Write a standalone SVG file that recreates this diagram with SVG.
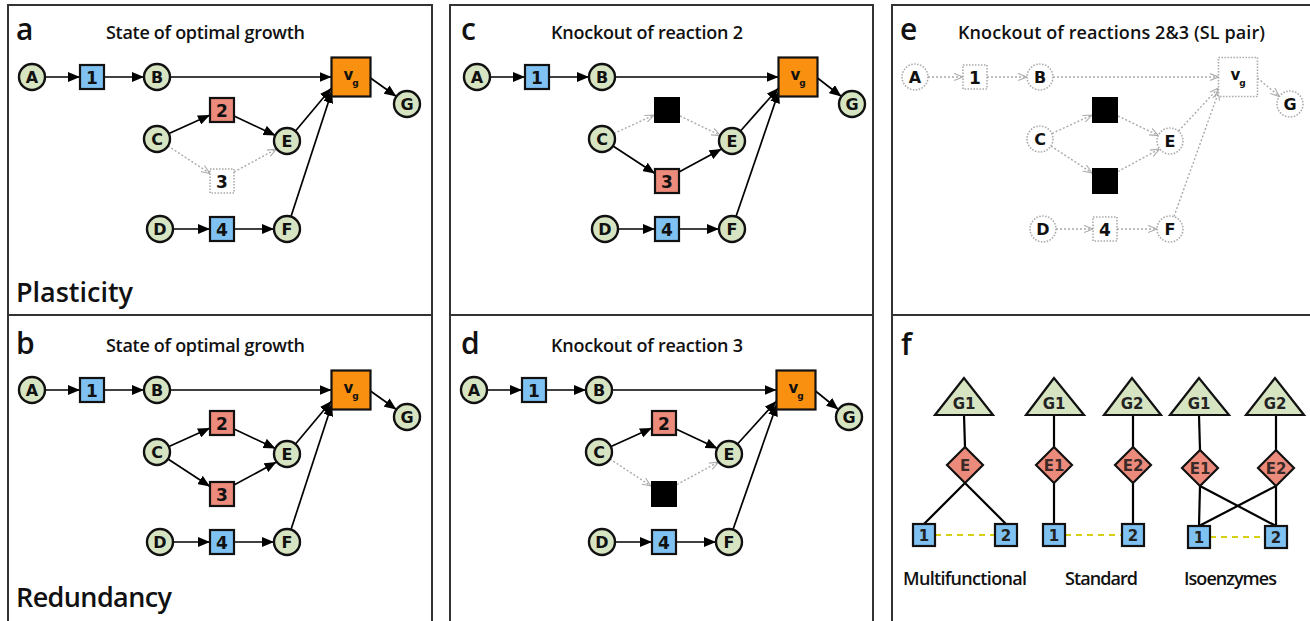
<svg xmlns="http://www.w3.org/2000/svg" width="1310" height="621" viewBox="0 0 1310 621">
<defs>
<marker id="ah" viewBox="0 0 12 10" refX="12" refY="5" markerWidth="12" markerHeight="10" markerUnits="userSpaceOnUse" orient="auto"><path d="M0,0 L12,5 L0,10 z" fill="#000"/></marker>
<marker id="oh" viewBox="0 0 10 10" refX="10" refY="5" markerWidth="9" markerHeight="9" markerUnits="userSpaceOnUse" orient="auto"><path d="M0,1 L10,5 L0,9" fill="none" stroke="#aaa" stroke-width="1.2"/></marker>
<style>
.frame{fill:none;stroke:#333;stroke-width:2}
.met{fill:#d6e4c2;stroke:#111;stroke-width:2.4}
.rb{fill:#7fc1f1;stroke:#111;stroke-width:2.2}
.rr{fill:#ec8b7b;stroke:#111;stroke-width:2.2}
.vg{fill:#fa900f;stroke:#111;stroke-width:2.2}
.ko{fill:#000}
.off{fill:#fff;stroke:#aaa;stroke-width:1.6;stroke-dasharray:1.5 1.5}
.lt{font-family:"DejaVu Sans",sans-serif;font-weight:bold;font-size:16px;text-anchor:middle;fill:#111}
.nt{font-family:"DejaVu Sans",sans-serif;font-weight:bold;font-size:17px;text-anchor:middle;fill:#111}
.v{font-family:"DejaVu Sans",sans-serif;font-weight:bold;font-size:15px;text-anchor:middle;fill:#111}
.sub{font-family:"DejaVu Sans",sans-serif;font-weight:bold;font-size:9px;text-anchor:middle;fill:#111}
.e{stroke:#000;stroke-width:1.7;fill:none;marker-end:url(#ah)}
.d{stroke:#aaa;stroke-width:1.4;stroke-dasharray:2 2;fill:none;marker-end:url(#oh)}
.title{font-family:"Open Sans",Lato,sans-serif;font-weight:600;font-size:18px;fill:#111}
.pl{font-family:"Open Sans",Lato,sans-serif;font-weight:600;font-size:30px;fill:#111}
.big{font-family:"Open Sans",Lato,sans-serif;font-weight:600;font-size:27px;fill:#111}
.fl{stroke:#000;stroke-width:2.2;fill:none}
.dash{stroke:#d4d010;stroke-width:2.2;stroke-dasharray:6 5;fill:none}
.tri{fill:#d6e4c2;stroke:#111;stroke-width:2.2}
.dia{fill:#ec8b7b;stroke:#111;stroke-width:2.2}
.ft{font-family:"DejaVu Sans",sans-serif;font-weight:bold;font-size:15px;text-anchor:middle;fill:#222}
.et{font-family:"DejaVu Sans",sans-serif;font-weight:bold;font-size:15px;text-anchor:middle;fill:#3a2a28}
</style>
</defs>
<rect width="1310" height="621" fill="#fff"/>

<g id="frames">
<rect class="frame" x="8" y="5" width="424" height="310"/>
<rect class="frame" x="8" y="315" width="424" height="315"/>
<rect class="frame" x="450" y="5" width="423" height="310"/>
<rect class="frame" x="450" y="315" width="423" height="315"/>
<rect class="frame" x="892" y="5" width="430" height="310"/>
<rect class="frame" x="892" y="315" width="430" height="315"/>
</g>

<!-- Panel a -->
<g id="panel-a">
<text class="pl" x="16" y="40">a</text>
<text class="title" x="106" y="39" textLength="199">State of optimal growth</text>
<text class="big" x="16" y="302" textLength="117">Plasticity</text>
<g id="a-edges">
<line class="e" x1="45" y1="77" x2="80" y2="77"/>
<line class="e" x1="104" y1="77" x2="144" y2="77"/>
<line class="e" x1="170" y1="77" x2="331.5" y2="77"/>
<line class="e" x1="370.5" y1="78" x2="396.4" y2="96.5"/>
<line class="e" x1="169" y1="133.5" x2="210" y2="115"/>
<line class="e" x1="234" y1="116" x2="275.5" y2="135.5"/>
<line class="e" x1="295.5" y1="131" x2="331.5" y2="88"/>
<line class="e" x1="291" y1="216.5" x2="332" y2="91"/>
<line class="d" x1="168" y1="146" x2="210" y2="173.5"/>
<line class="d" x1="234" y1="172" x2="276.5" y2="149"/>
<line class="e" x1="173" y1="229" x2="210" y2="229"/>
<line class="e" x1="234" y1="229" x2="274" y2="229"/>
</g>
<g id="a-A"><circle class="met" cx="32" cy="77" r="13"/><text class="lt" x="32" y="83">A</text></g>
<g id="a-R1"><rect class="rb" x="80" y="65" width="24" height="24"/><text class="nt" x="92" y="83.5">1</text></g>
<g id="a-B"><circle class="met" cx="157" cy="77" r="13"/><text class="lt" x="157" y="83">B</text></g>
<g id="a-VG"><rect class="vg" x="331.5" y="57.5" width="39" height="39"/><text class="v" x="348.5" y="80">v</text><text class="sub" x="355.5" y="86">g</text></g>
<g id="a-G"><circle class="met" cx="407" cy="104" r="13"/><text class="lt" x="407" y="110">G</text></g>
<g id="a-R2"><rect class="rr" x="210" y="98" width="24" height="24"/><text class="nt" x="222" y="116.5">2</text></g>
<g id="a-C"><circle class="met" cx="157" cy="139" r="13"/><text class="lt" x="157" y="145">C</text></g>
<g id="a-E"><circle class="met" cx="287" cy="141" r="13"/><text class="lt" x="287" y="147">E</text></g>
<g id="a-R3"><rect class="off" x="210" y="169" width="24" height="24"/><text class="nt" x="222" y="187.5">3</text></g>
<g id="a-D"><circle class="met" cx="160" cy="229" r="13"/><text class="lt" x="160" y="235">D</text></g>
<g id="a-R4"><rect class="rb" x="210" y="217" width="24" height="24"/><text class="nt" x="222" y="235.5">4</text></g>
<g id="a-F"><circle class="met" cx="287" cy="229" r="13"/><text class="lt" x="287" y="235">F</text></g>
</g>

<!-- Panel b -->
<g id="panel-b">
<text class="pl" x="16" y="354">b</text>
<text class="title" x="106" y="352" textLength="199">State of optimal growth</text>
<text class="big" x="16" y="607" textLength="156">Redundancy</text>
<g transform="translate(0,313)">
<g id="b-edges">
<line class="e" x1="45" y1="77" x2="80" y2="77"/>
<line class="e" x1="104" y1="77" x2="144" y2="77"/>
<line class="e" x1="170" y1="77" x2="331.5" y2="77"/>
<line class="e" x1="370.5" y1="78" x2="396.4" y2="96.5"/>
<line class="e" x1="169" y1="133.5" x2="210" y2="115"/>
<line class="e" x1="234" y1="116" x2="275.5" y2="135.5"/>
<line class="e" x1="295.5" y1="131" x2="331.5" y2="88"/>
<line class="e" x1="291" y1="216.5" x2="332" y2="91"/>
<line class="e" x1="168" y1="146" x2="210" y2="173.5"/>
<line class="e" x1="234" y1="172" x2="276.5" y2="149"/>
<line class="e" x1="173" y1="229" x2="210" y2="229"/>
<line class="e" x1="234" y1="229" x2="274" y2="229"/>
</g>
<g id="b-A"><circle class="met" cx="32" cy="77" r="13"/><text class="lt" x="32" y="83">A</text></g>
<g id="b-R1"><rect class="rb" x="80" y="65" width="24" height="24"/><text class="nt" x="92" y="83.5">1</text></g>
<g id="b-B"><circle class="met" cx="157" cy="77" r="13"/><text class="lt" x="157" y="83">B</text></g>
<g id="b-VG"><rect class="vg" x="331.5" y="57.5" width="39" height="39"/><text class="v" x="348.5" y="80">v</text><text class="sub" x="355.5" y="86">g</text></g>
<g id="b-G"><circle class="met" cx="407" cy="104" r="13"/><text class="lt" x="407" y="110">G</text></g>
<g id="b-R2"><rect class="rr" x="210" y="98" width="24" height="24"/><text class="nt" x="222" y="116.5">2</text></g>
<g id="b-C"><circle class="met" cx="157" cy="139" r="13"/><text class="lt" x="157" y="145">C</text></g>
<g id="b-E"><circle class="met" cx="287" cy="141" r="13"/><text class="lt" x="287" y="147">E</text></g>
<g id="b-R3"><rect class="rr" x="210" y="169" width="24" height="24"/><text class="nt" x="222" y="187.5">3</text></g>
<g id="b-D"><circle class="met" cx="160" cy="229" r="13"/><text class="lt" x="160" y="235">D</text></g>
<g id="b-R4"><rect class="rb" x="210" y="217" width="24" height="24"/><text class="nt" x="222" y="235.5">4</text></g>
<g id="b-F"><circle class="met" cx="287" cy="229" r="13"/><text class="lt" x="287" y="235">F</text></g>
</g>
</g>

<!-- Panel c -->
<g id="panel-c">
<text class="pl" x="461" y="40">c</text>
<text class="title" x="551" y="39" textLength="192">Knockout of reaction 2</text>
<g transform="translate(445,0)">
<g id="c-edges">
<line class="e" x1="45" y1="77" x2="80" y2="77"/>
<line class="e" x1="104" y1="77" x2="144" y2="77"/>
<line class="e" x1="170" y1="77" x2="333.5" y2="77"/>
<line class="e" x1="372.5" y1="78" x2="396.4" y2="96.5"/>
<line class="d" x1="169" y1="133.5" x2="209" y2="115"/>
<line class="d" x1="235" y1="116" x2="275.5" y2="135.5"/>
<line class="e" x1="295.5" y1="131" x2="333.5" y2="88"/>
<line class="e" x1="291" y1="216.5" x2="334" y2="91"/>
<line class="e" x1="168" y1="146" x2="210" y2="173.5"/>
<line class="e" x1="234" y1="172" x2="276.5" y2="149"/>
<line class="e" x1="173" y1="229" x2="210" y2="229"/>
<line class="e" x1="234" y1="229" x2="274" y2="229"/>
</g>
<g id="c-A"><circle class="met" cx="32" cy="77" r="13"/><text class="lt" x="32" y="83">A</text></g>
<g id="c-R1"><rect class="rb" x="80" y="65" width="24" height="24"/><text class="nt" x="92" y="83.5">1</text></g>
<g id="c-B"><circle class="met" cx="157" cy="77" r="13"/><text class="lt" x="157" y="83">B</text></g>
<g id="c-VG"><rect class="vg" x="333.5" y="57.5" width="39" height="39"/><text class="v" x="350.5" y="80">v</text><text class="sub" x="357.5" y="86">g</text></g>
<g id="c-G"><circle class="met" cx="407" cy="104" r="13"/><text class="lt" x="407" y="110">G</text></g>
<g id="c-R2"><rect class="ko" x="209" y="97" width="26" height="26"/></g>
<g id="c-C"><circle class="met" cx="157" cy="139" r="13"/><text class="lt" x="157" y="145">C</text></g>
<g id="c-E"><circle class="met" cx="287" cy="141" r="13"/><text class="lt" x="287" y="147">E</text></g>
<g id="c-R3"><rect class="rr" x="210" y="169" width="24" height="24"/><text class="nt" x="222" y="187.5">3</text></g>
<g id="c-D"><circle class="met" cx="160" cy="229" r="13"/><text class="lt" x="160" y="235">D</text></g>
<g id="c-R4"><rect class="rb" x="210" y="217" width="24" height="24"/><text class="nt" x="222" y="235.5">4</text></g>
<g id="c-F"><circle class="met" cx="287" cy="229" r="13"/><text class="lt" x="287" y="235">F</text></g>
</g>
</g>

<!-- Panel d -->
<g id="panel-d">
<text class="pl" x="461" y="354">d</text>
<text class="title" x="551" y="352" textLength="192">Knockout of reaction 3</text>
<g transform="translate(442,313)">
<g id="d-edges">
<line class="e" x1="45" y1="77" x2="80" y2="77"/>
<line class="e" x1="104" y1="77" x2="144" y2="77"/>
<line class="e" x1="170" y1="77" x2="334.5" y2="77"/>
<line class="e" x1="373.5" y1="78" x2="396.4" y2="96.5"/>
<line class="e" x1="169" y1="133.5" x2="210" y2="115"/>
<line class="e" x1="234" y1="116" x2="275.5" y2="135.5"/>
<line class="e" x1="295.5" y1="131" x2="334.5" y2="88"/>
<line class="e" x1="291" y1="216.5" x2="335" y2="91"/>
<line class="d" x1="168" y1="146" x2="209" y2="173"/>
<line class="d" x1="235" y1="171.5" x2="276.5" y2="149"/>
<line class="e" x1="173" y1="229" x2="210" y2="229"/>
<line class="e" x1="234" y1="229" x2="274" y2="229"/>
</g>
<g id="d-A"><circle class="met" cx="32" cy="77" r="13"/><text class="lt" x="32" y="83">A</text></g>
<g id="d-R1"><rect class="rb" x="80" y="65" width="24" height="24"/><text class="nt" x="92" y="83.5">1</text></g>
<g id="d-B"><circle class="met" cx="157" cy="77" r="13"/><text class="lt" x="157" y="83">B</text></g>
<g id="d-VG"><rect class="vg" x="334.5" y="57.5" width="39" height="39"/><text class="v" x="351.5" y="80">v</text><text class="sub" x="358.5" y="86">g</text></g>
<g id="d-G"><circle class="met" cx="407" cy="104" r="13"/><text class="lt" x="407" y="110">G</text></g>
<g id="d-R2"><rect class="rr" x="210" y="98" width="24" height="24"/><text class="nt" x="222" y="116.5">2</text></g>
<g id="d-C"><circle class="met" cx="157" cy="139" r="13"/><text class="lt" x="157" y="145">C</text></g>
<g id="d-E"><circle class="met" cx="287" cy="141" r="13"/><text class="lt" x="287" y="147">E</text></g>
<g id="d-R3"><rect class="ko" x="209" y="168" width="26" height="26"/></g>
<g id="d-D"><circle class="met" cx="160" cy="229" r="13"/><text class="lt" x="160" y="235">D</text></g>
<g id="d-R4"><rect class="rb" x="210" y="217" width="24" height="24"/><text class="nt" x="222" y="235.5">4</text></g>
<g id="d-F"><circle class="met" cx="287" cy="229" r="13"/><text class="lt" x="287" y="235">F</text></g>
</g>
</g>

<!-- Panel e -->
<g id="panel-e">
<text class="pl" x="900" y="40">e</text>
<text class="title" x="958" y="39" textLength="307">Knockout of reactions 2&amp;3 (SL pair)</text>
<g transform="translate(883,0)">
<g id="e-edges">
<line class="d" x1="45" y1="77" x2="80" y2="77"/>
<line class="d" x1="104" y1="77" x2="144" y2="77"/>
<line class="d" x1="170" y1="77" x2="335.5" y2="77"/>
<line class="d" x1="374.5" y1="78" x2="396.4" y2="96.5"/>
<line class="d" x1="169" y1="133.5" x2="209" y2="115"/>
<line class="d" x1="235" y1="116" x2="275.5" y2="135.5"/>
<line class="d" x1="295.5" y1="131" x2="335.5" y2="88"/>
<line class="d" x1="291" y1="216.5" x2="336" y2="91"/>
<line class="d" x1="168" y1="146" x2="209" y2="173"/>
<line class="d" x1="235" y1="171.5" x2="276.5" y2="149"/>
<line class="d" x1="173" y1="229" x2="210" y2="229"/>
<line class="d" x1="234" y1="229" x2="274" y2="229"/>
</g>
<g id="e-A"><circle class="off" cx="32" cy="77" r="13"/><text class="lt" x="32" y="83">A</text></g>
<g id="e-R1"><rect class="off" x="80" y="65" width="24" height="24"/><text class="nt" x="92" y="83.5">1</text></g>
<g id="e-B"><circle class="off" cx="157" cy="77" r="13"/><text class="lt" x="157" y="83">B</text></g>
<g id="e-VG"><rect class="off" x="335.5" y="57.5" width="39" height="39"/><text class="v" x="352.5" y="80">v</text><text class="sub" x="359.5" y="86">g</text></g>
<g id="e-G"><circle class="off" cx="407" cy="104" r="13"/><text class="lt" x="407" y="110">G</text></g>
<g id="e-R2"><rect class="ko" x="209" y="97" width="26" height="26"/></g>
<g id="e-C"><circle class="off" cx="157" cy="139" r="13"/><text class="lt" x="157" y="145">C</text></g>
<g id="e-E"><circle class="off" cx="287" cy="141" r="13"/><text class="lt" x="287" y="147">E</text></g>
<g id="e-R3"><rect class="ko" x="209" y="168" width="26" height="26"/></g>
<g id="e-D"><circle class="off" cx="160" cy="229" r="13"/><text class="lt" x="160" y="235">D</text></g>
<g id="e-R4"><rect class="off" x="210" y="217" width="24" height="24"/><text class="nt" x="222" y="235.5">4</text></g>
<g id="e-F"><circle class="off" cx="287" cy="229" r="13"/><text class="lt" x="287" y="235">F</text></g>
</g>
</g>

<!-- Panel f -->
<g id="panel-f">
<text class="pl" x="901" y="355">f</text>
<g id="f-edges">
<line class="fl" x1="964" y1="415" x2="965" y2="447"/>
<line class="fl" x1="965" y1="483" x2="924" y2="524"/>
<line class="fl" x1="965" y1="483" x2="1006" y2="524"/>
<line class="fl" x1="1054" y1="415" x2="1054" y2="447"/>
<line class="fl" x1="1054" y1="483" x2="1054" y2="524"/>
<line class="fl" x1="1133" y1="415" x2="1133" y2="447"/>
<line class="fl" x1="1133" y1="483" x2="1133" y2="524"/>
<line class="fl" x1="1199" y1="415" x2="1200" y2="450"/>
<line class="fl" x1="1200" y1="486" x2="1199" y2="526"/>
<line class="fl" x1="1200" y1="486" x2="1276" y2="526"/>
<line class="fl" x1="1276" y1="415" x2="1276" y2="450"/>
<line class="fl" x1="1276" y1="486" x2="1276" y2="526"/>
<line class="fl" x1="1276" y1="486" x2="1199" y2="526"/>
<line class="dash" x1="935" y1="535" x2="995" y2="535"/>
<line class="dash" x1="1065" y1="535" x2="1122" y2="535"/>
<line class="dash" x1="1210" y1="537" x2="1265" y2="537"/>
</g>
<g id="f-mf-G1"><polygon class="tri" points="964,378 935,415 993,415"/><text class="ft" x="964" y="409">G1</text></g>
<g id="f-mf-E"><polygon class="dia" points="965,447 983,465 965,483 947,465"/><text class="et" x="965" y="470.5">E</text></g>
<g id="f-mf-1"><rect class="rb" x="913" y="524" width="22" height="22"/><text class="ft" x="924" y="541">1</text></g>
<g id="f-mf-2"><rect class="rb" x="995" y="524" width="22" height="22"/><text class="ft" x="1006" y="541">2</text></g>
<g id="f-st-G1"><polygon class="tri" points="1054,378 1026,415 1084,415"/><text class="ft" x="1054" y="409">G1</text></g>
<g id="f-st-G2"><polygon class="tri" points="1132,378 1104,415 1161,415"/><text class="ft" x="1132" y="409">G2</text></g>
<g id="f-st-E1"><polygon class="dia" points="1054,447 1072,465 1054,483 1036,465"/><text class="et" x="1054" y="470.5">E1</text></g>
<g id="f-st-E2"><polygon class="dia" points="1133,447 1151,465 1133,483 1115,465"/><text class="et" x="1133" y="470.5">E2</text></g>
<g id="f-st-1"><rect class="rb" x="1043" y="524" width="22" height="22"/><text class="ft" x="1054" y="541">1</text></g>
<g id="f-st-2"><rect class="rb" x="1122" y="524" width="22" height="22"/><text class="ft" x="1133" y="541">2</text></g>
<g id="f-iso-G1"><polygon class="tri" points="1199,378 1170,415 1229,415"/><text class="ft" x="1199" y="409">G1</text></g>
<g id="f-iso-G2"><polygon class="tri" points="1275,378 1246,415 1304,415"/><text class="ft" x="1275" y="409">G2</text></g>
<g id="f-iso-E1"><polygon class="dia" points="1200,450 1218,468 1200,486 1182,468"/><text class="et" x="1200" y="473.5">E1</text></g>
<g id="f-iso-E2"><polygon class="dia" points="1276,450 1294,468 1276,486 1258,468"/><text class="et" x="1276" y="473.5">E2</text></g>
<g id="f-iso-1"><rect class="rb" x="1188" y="526" width="22" height="22"/><text class="ft" x="1199" y="543">1</text></g>
<g id="f-iso-2"><rect class="rb" x="1265" y="526" width="22" height="22"/><text class="ft" x="1276" y="543">2</text></g>
<text class="title" x="903" y="585" textLength="124">Multifunctional</text>
<text class="title" x="1065" y="585" textLength="73">Standard</text>
<text class="title" x="1184" y="585" textLength="93">Isoenzymes</text>
</g>
</svg>
